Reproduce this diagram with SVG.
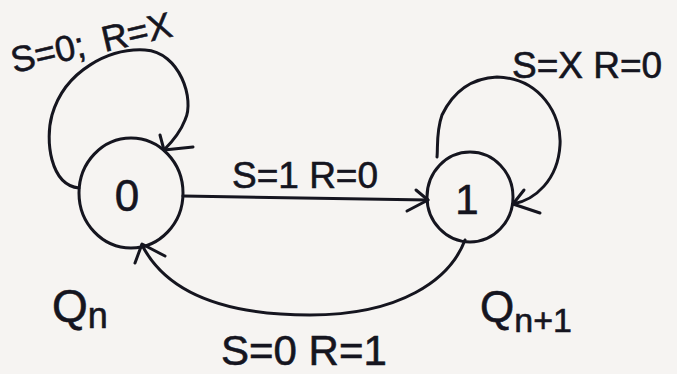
<svg xmlns="http://www.w3.org/2000/svg" width="677" height="374" viewBox="0 0 677 374">
<style>
.ln{fill:none;stroke:#15151f;stroke-width:3;stroke-linecap:round;stroke-linejoin:round}
.t{font-family:"Liberation Sans",Arial,sans-serif;fill:#15151f;stroke:#15151f;stroke-width:0.6}
</style>
<rect width="677" height="374" fill="#f6f4f2"/>
<g id="connectors">
  <g id="loop0">
    <path class="ln" d="M79,188 C50,185 45,140 52,115 C65,70 110,48 145,50 C180,52 195,100 185,120 C180,133 172,142 164,150"/>
    <path class="ln" d="M160,135 L164,150 L193,147"/>
  </g>
  <g id="e01">
    <path class="ln" d="M183,196 L428,200"/>
    <path class="ln" d="M416,190 L428,200 L407,211"/>
  </g>
  <g id="loop1">
    <path class="ln" d="M437,157 C438,148 436,132 442,115 C455,88 475,78 497,77 C540,78 562,115 560,145 C558,180 535,200 513,204"/>
    <path class="ln" d="M524,190 L513,204 L540,213"/>
  </g>
  <g id="e10">
    <path class="ln" d="M465,240 C450,280 400,315 310,315 C220,315 165,290 142,245"/>
    <path class="ln" d="M165,256 L142,244 L135,263"/>
  </g>
</g>
<g id="node0">
  <ellipse class="ln" cx="131" cy="193" rx="52" ry="55"/>
  <text class="t" x="127" y="211" font-size="44" text-anchor="middle">0</text>
</g>
<g id="node1">
  <ellipse class="ln" cx="470" cy="197" rx="43" ry="45"/>
  <text class="t" x="467" y="214" font-size="42" text-anchor="middle">1</text>
</g>
<g id="labels">
  <text class="t" x="14" y="73" font-size="36" transform="rotate(-13 14 73)">S=0; <tspan dx="8">R=X</tspan></text>
  <text class="t" x="512" y="78" font-size="37">S=X R=0</text>
  <text class="t" x="232" y="188" font-size="37">S=1  R=0</text>
  <text class="t" x="221" y="365" font-size="42">S=0 R=1</text>
  <text class="t" x="52" y="322" font-size="46">Q<tspan font-size="36" dy="6">n</tspan></text>
  <text class="t" x="480" y="322" font-size="44">Q<tspan font-size="34" dy="10">n+1</tspan></text>
</g>
</svg>
